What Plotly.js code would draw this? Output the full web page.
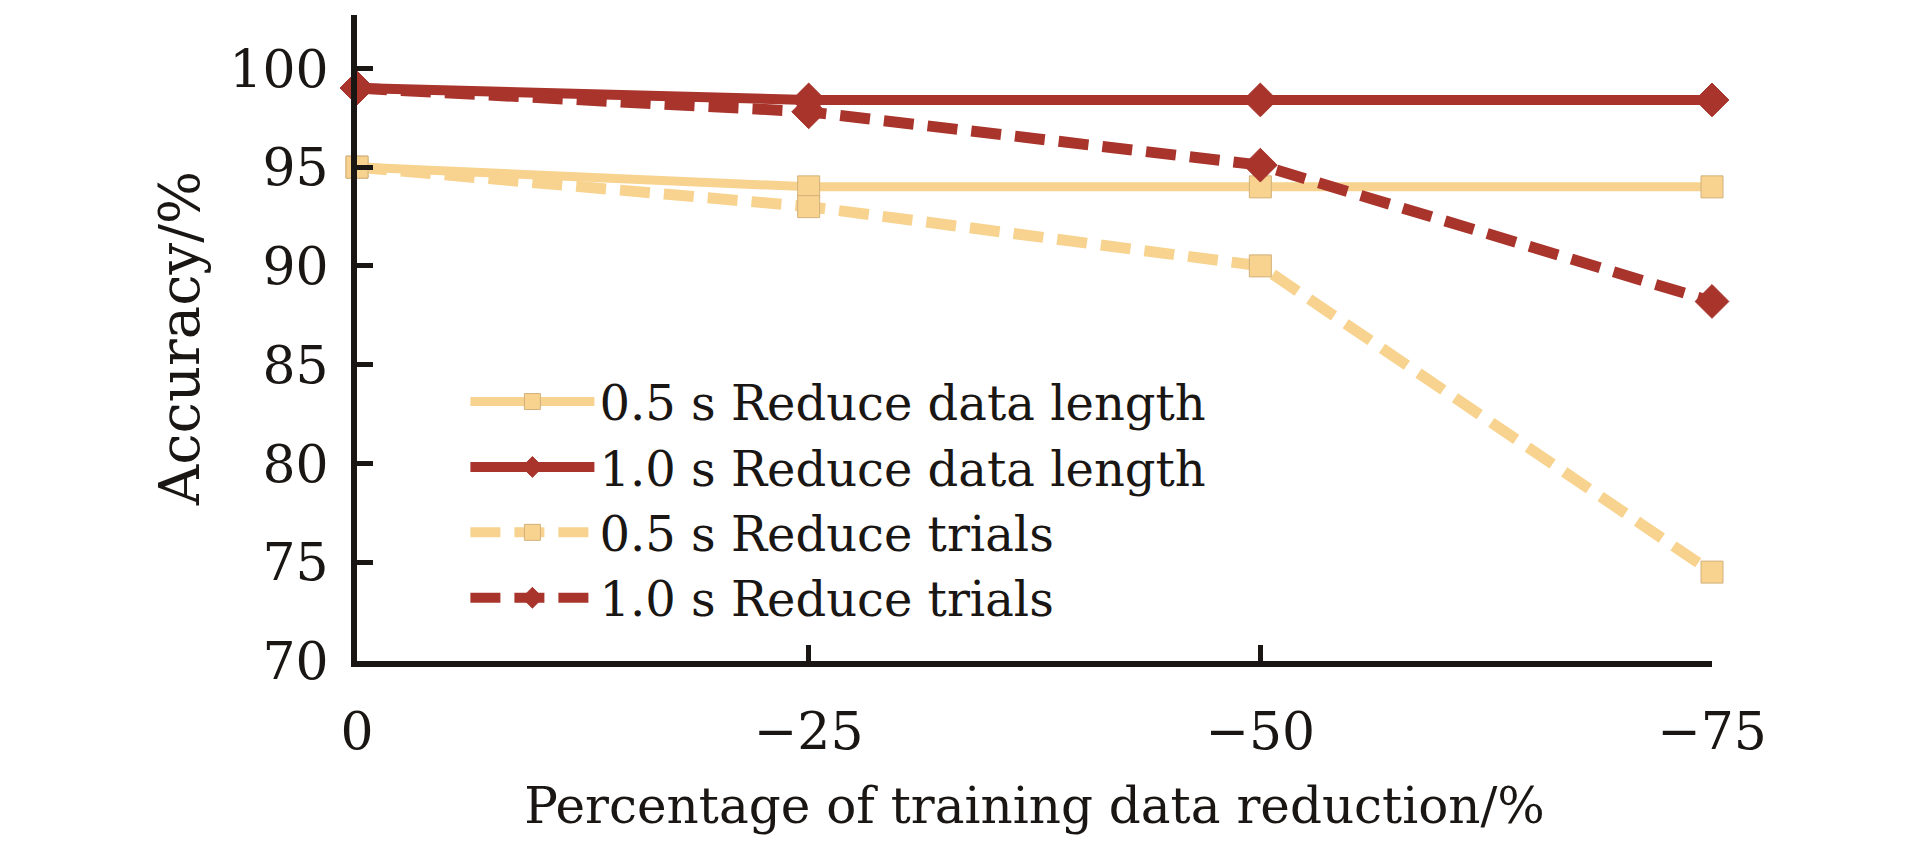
<!DOCTYPE html>
<html>
<head>
<meta charset="utf-8">
<script src="https://cdn.plot.ly/plotly-3.0.1.min.js"></script>
<style>
  html, body { margin: 0; padding: 0; background: #fff; }
  #chart { width: 1913px; height: 850px; }
</style>
</head>
<body>
<div id="chart"></div>
<script>
// training data reduction (%) and accuracy (%)
const reduction = [0, -25, -50, -75];
const len05 = [95, 94, 94, 94];
const len10 = [99, 98.4, 98.4, 98.4];
const trials05 = [95, 93, 90, 74.5];
const trials10 = [99, 97.8, 95.1, 88.2];

const names = [
  "0.5 s Reduce data length",
  "1.0 s Reduce data length",
  "0.5 s Reduce trials",
  "1.0 s Reduce trials",
];

const yellow = "#F7D38F";
const red = "#A8342C";
const serif = "DejaVu Serif, Liberation Serif, serif";

function serie(y, name, color, symbol, dash, width) {
  return {
    x: reduction,
    y: y,
    name: name,
    type: "scatter",
    mode: "lines+markers",
    cliponaxis: false,
    line: { color: color, width: width, dash: dash },
    marker: {
      color: color,
      symbol: symbol,
      size: symbol == "square" ? 22 : 26,
      line: { color: symbol == "square" ? "#D2B07A" : color, width: 1 },
    },
  };
}

const data = [
  serie(len05, names[0], yellow, "square", "solid", 9),
  serie(len10, names[1], red, "diamond", "solid", 10),
  serie(trials05, names[2], yellow, "square", "30px,14px", 11),
  serie(trials10, names[3], red, "diamond", "30px,14px", 11),
];

const layout = {
  width: 1913,
  height: 850,
  margin: { l: 357, r: 201, t: 15, b: 189 },
  paper_bgcolor: "#fff",
  plot_bgcolor: "#fff",
  font: { family: serif, color: "#1a1614" },
  showlegend: true,
  legend: {
    x: 0.08,
    y: 0.46,
    xanchor: "left",
    yanchor: "top",
    bgcolor: "rgba(0,0,0,0)",
    font: { family: serif, size: 48, color: "#1a1614" },
    itemwidth: 124,
    tracegroupgap: 0,
  },
  xaxis: {
    range: [0, -75],
    tickvals: reduction,
    ticktext: ["0", "\u221225", "\u221250", "\u221275"],
    showgrid: false,
    zeroline: false,
    showline: true,
    linecolor: "#1a1614",
    linewidth: 6,
    ticks: "inside",
    ticklen: 16,
    tickwidth: 5,
    tickcolor: "#1a1614",
    tickfont: { family: serif, size: 52 },
    ticklabelstandoff: 20,
    automargin: false,
    title: {
      text: "Percentage of training data reduction/%",
      font: { family: serif, size: 50 },
      standoff: 30,
    },
  },
  yaxis: {
    range: [70, 102.7],
    tickvals: [70, 75, 80, 85, 90, 95, 100],
    showgrid: false,
    zeroline: false,
    showline: true,
    linecolor: "#1a1614",
    linewidth: 6,
    ticks: "inside",
    ticklen: 16,
    tickwidth: 5,
    tickcolor: "#1a1614",
    tickfont: { family: serif, size: 52 },
    ticklabelstandoff: 12,
    automargin: false,
    title: {
      text: "Accuracy/%",
      font: { family: serif, size: 56 },
      standoff: 14,
    },
  },
};

Plotly.newPlot("chart", data, layout, { displayModeBar: false, staticPlot: true });
</script>
</body>
</html>
